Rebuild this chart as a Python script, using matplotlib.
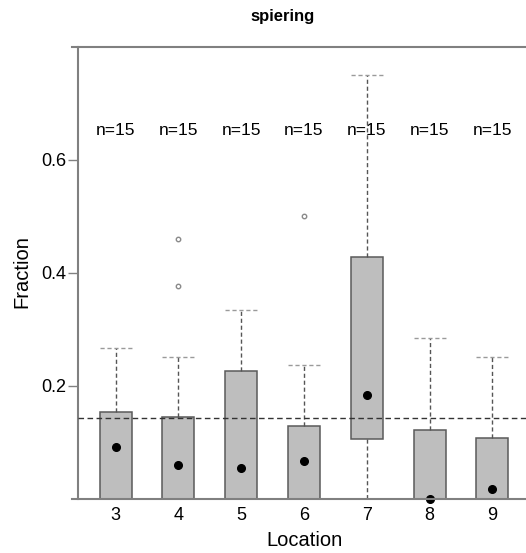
import matplotlib
matplotlib.use("Agg")
import matplotlib.pyplot as plt
from matplotlib.lines import Line2D

plt.rcParams['font.family'] = ['Liberation Sans', 'DejaVu Sans']

# values
locations = ['3', '4', '5', '6', '7', '8', '9']
q1 = [0.0, 0.0, 0.0, 0.0, 0.105, 0.0, 0.0]
q3 = [0.154, 0.145, 0.226, 0.128, 0.427, 0.122, 0.107]
whis_lo = [0.0, 0.0, 0.0, 0.0, 0.0, 0.0, 0.0]
whis_hi = [0.266, 0.25, 0.334, 0.236, 0.75, 0.285, 0.25]
medians = [0.091, 0.060, 0.054, 0.066, 0.184, 0.0, 0.017]
outliers = [[], [0.459, 0.376], [], [0.5], [], [], []]
counts = [15, 15, 15, 15, 15, 15, 15]
ref_level = 1 / 7

W, H = 526, 553
fig = plt.figure(figsize=(W / 100, H / 100), dpi=100)
ax = fig.add_axes([78 / W, 1 - 498.5 / H, (530 - 78) / W, (498.5 - 46.7) / H])

stats = []
for i in range(len(locations)):
    stats.append(dict(med=medians[i], q1=q1[i], q3=q3[i],
                      whislo=whis_lo[i], whishi=whis_hi[i], fliers=outliers[i]))

pos = list(range(1, len(locations) + 1))
ax.bxp(stats, positions=pos, widths=0.51, capwidths=0.51, patch_artist=True,
       boxprops=dict(facecolor='#bebebe', edgecolor='#5a5a5a', linewidth=1.1),
       whiskerprops=dict(color='#555555', linestyle=(0, (3, 2)), linewidth=1.0),
       capprops=dict(color='#9a9a9a', linestyle=(0, (3, 2)), linewidth=1.0),
       medianprops=dict(visible=False),
       flierprops=dict(marker='o', markersize=3.2, markerfacecolor='white',
                       markeredgecolor='#8a8a8a', markeredgewidth=1.0),
       zorder=2)
ax.plot(pos, medians, 'o', color='black', markersize=5.5, zorder=4, clip_on=False)

ax.axhline(ref_level, color='#333333', linestyle=(0, (4, 2.5)), linewidth=1.0, zorder=3)

for p, n in zip(pos, counts):
    ax.text(p, 0.651, f'n={n}', ha='center', va='center', fontsize=12.5, zorder=5)

ax.set_xlim(0.4, 7.6)
ax.set_ylim(0, 0.8)
ax.set_xticks(pos)
ax.set_xticklabels(locations)
ax.set_yticks([0.2, 0.4, 0.6])
ax.set_yticklabels(['0.2', '0.4', '0.6'])
ax.tick_params(axis='x', length=0, pad=6, labelsize=13)
ax.tick_params(axis='y', length=7, pad=1.5, width=1.0, color='#808080', labelsize=13)

for s in ['top', 'bottom', 'right']:
    ax.spines[s].set_visible(False)
ax.spines['left'].set_color('#808080')
ax.spines['left'].set_linewidth(1.5)

# frame lines at top and bottom start a little left of the y axis
for yp in [46.7, 498.5]:
    fig.add_artist(Line2D([72 / W, 1.0], [1 - yp / H, 1 - yp / H],
                          color='#808080', linewidth=1.5))

fig.text(282.5 / W, 1 - 17 / H, 'spiering', ha='center', va='center',
         fontsize=12, fontweight='bold')
fig.text(22 / W, 1 - 272 / H, 'Fraction', ha='center', va='center',
         rotation=90, fontsize=14.5)
fig.text(305 / W, 1 - 540 / H, 'Location', ha='center', va='center', fontsize=14.5)

fig.savefig('out.png', dpi=100)
